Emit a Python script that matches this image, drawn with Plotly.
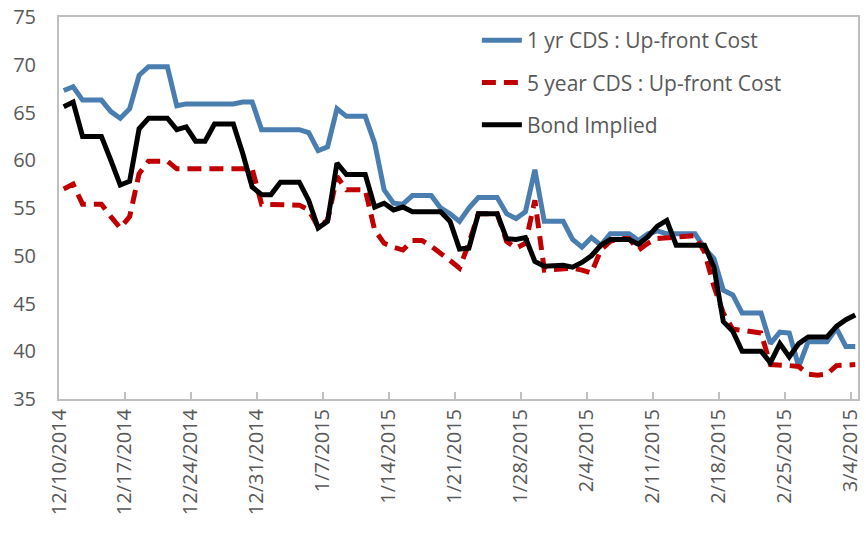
import pandas as pd
import plotly.graph_objects as go

# Daily observations, 12/10/2014 .. 3/4/2015 (85 days)
dates = pd.date_range("2014-12-10 12:00", periods=85, freq="D")

cds_1yr = [
    67.3, 67.7, 66.3, 66.3, 66.3, 65.1, 64.4, 65.4, 68.9, 69.8,
    69.8, 69.8, 65.7, 65.9, 65.9, 65.9, 65.9, 65.9, 65.9, 66.1,
    66.1, 63.2, 63.2, 63.2, 63.2, 63.2, 62.9, 61.0, 61.4, 65.4,
    64.6, 64.6, 64.6, 61.8, 56.9, 55.5, 55.4, 56.3, 56.3, 56.3,
    55.0, 54.4, 53.6, 55.0, 56.1, 56.1, 56.1, 54.4, 53.9, 54.6,
    59.0, 53.6, 53.6, 53.6, 51.7, 50.9, 51.9, 51.1, 52.3, 52.3,
    52.3, 51.6, 52.3, 52.6, 52.3, 52.3, 52.3, 52.3, 50.8, 49.7,
    46.4, 45.9, 44.0, 44.0, 44.0, 40.8, 42.0, 41.9, 38.4, 41.0,
    41.0, 41.0, 42.4, 40.5, 40.5,
]

cds_5yr = [
    57.0, 57.5, 55.4, 55.4, 55.4, 54.1, 52.9, 54.1, 58.6, 59.9,
    59.9, 59.9, 59.1, 59.1, 59.1, 59.1, 59.1, 59.1, 59.1, 59.1,
    59.1, 55.4, 55.4, 55.4, 55.4, 55.3, 54.8, 53.0, 53.7, 58.3,
    56.9, 56.9, 56.9, 52.7, 51.3, 50.9, 50.6, 51.6, 51.6, 51.0,
    50.3, 49.5, 48.7, 51.3, 54.4, 54.4, 54.4, 51.5, 50.8, 51.3,
    55.8, 48.5, 48.6, 48.7, 48.7, 48.5, 48.2, 50.6, 51.5, 51.8,
    51.8, 50.6, 51.3, 51.8, 51.9, 52.0, 52.1, 52.1, 50.4, 46.8,
    44.0, 42.3, 42.2, 42.1, 41.9, 38.6, 38.6, 38.5, 38.4, 37.6,
    37.5, 37.6, 38.5, 38.6, 38.6,
]

bond_implied = [
    65.6, 66.1, 62.5, 62.5, 62.5, 60.0, 57.4, 57.8, 63.3, 64.4,
    64.4, 64.4, 63.2, 63.5, 62.0, 62.0, 63.8, 63.8, 63.8, 60.7,
    57.2, 56.4, 56.4, 57.7, 57.7, 57.7, 55.8, 52.9, 53.6, 59.7,
    58.5, 58.5, 58.5, 55.1, 55.5, 54.8, 55.1, 54.6, 54.6, 54.6,
    54.6, 53.6, 50.7, 50.8, 54.4, 54.4, 54.4, 51.8, 51.7, 51.9,
    49.4, 48.9, 49.0, 49.0, 48.8, 49.3, 50.0, 51.1, 51.7, 51.7,
    51.7, 51.2, 52.0, 53.1, 53.7, 51.1, 51.1, 51.1, 51.1, 48.8,
    43.1, 42.1, 40.0, 40.0, 40.0, 38.8, 40.8, 39.4, 40.8, 41.5,
    41.5, 41.5, 42.6, 43.3, 43.8,
]

series_names = ["1 yr CDS : Up-front Cost", "5 year CDS : Up-front Cost", "Bond Implied"]

tick_dates = pd.date_range("2014-12-10", "2015-03-04", freq="7D")
tick_labels = ["12/10/2014", "12/17/2014", "12/24/2014", "12/31/2014", "1/7/2015",
               "1/14/2015", "1/21/2015", "1/28/2015", "2/4/2015", "2/11/2015",
               "2/18/2015", "2/25/2015", "3/4/2015"]

GRAY_TXT = "#595959"
AXIS_COL = "#BFBFBF"
FONT = "Open Sans"

fig = go.Figure()
fig.add_trace(go.Scatter(x=dates, y=cds_1yr, mode="lines", name=series_names[0],
                         legendgroup="a",
                         line=dict(color="#4A7EB1", width=5)))
fig.add_trace(go.Scatter(x=dates, y=cds_5yr, mode="lines", name=series_names[1],
                         legendgroup="b",
                         line=dict(color="#C00000", width=5, dash="14px,8px")))
fig.add_trace(go.Scatter(x=dates, y=bond_implied, mode="lines", name=series_names[2],
                         legendgroup="c",
                         line=dict(color="#000000", width=5)))

fig.update_layout(
    width=866, height=533,
    margin=dict(l=59, r=8, t=17, b=134, autoexpand=False),
    paper_bgcolor="white", plot_bgcolor="white",
    font=dict(family=FONT, color=GRAY_TXT),
    showlegend=True,
    legend=dict(x=0.523, y=0.992, xanchor="left", yanchor="top",
                font=dict(size=21, color=GRAY_TXT, family=FONT),
                bgcolor="rgba(0,0,0,0)", tracegroupgap=12,
                itemwidth=40),
)
fig.update_xaxes(
    type="date", automargin=False, ticklabeloverflow="allow",
    range=["2014-12-10 00:00", "2015-03-04 19:00"],
    tickmode="array", tickvals=tick_dates, ticktext=tick_labels,
    tickangle=-90, tickfont=dict(size=20, color=GRAY_TXT, family=FONT),
    showgrid=False, zeroline=False,
    showline=True, linecolor=AXIS_COL, linewidth=2, mirror=True,
    ticks="inside", ticklen=7, tickcolor=AXIS_COL, tickwidth=1.5,
)
fig.update_yaxes(
    range=[35, 75], dtick=5, tick0=35, automargin=False, ticklabeloverflow="allow",
    tickfont=dict(size=20, color=GRAY_TXT, family=FONT),
    showgrid=False, zeroline=False,
    showline=True, linecolor=AXIS_COL, linewidth=2, mirror=True,
    ticks="", ticklabelstandoff=17,
)

# remove the browser's default 8px page margin so the figure fills the window
fig.write_html("out.html", config={"displayModeBar": False},
               post_script="document.body.style.margin='0';")
